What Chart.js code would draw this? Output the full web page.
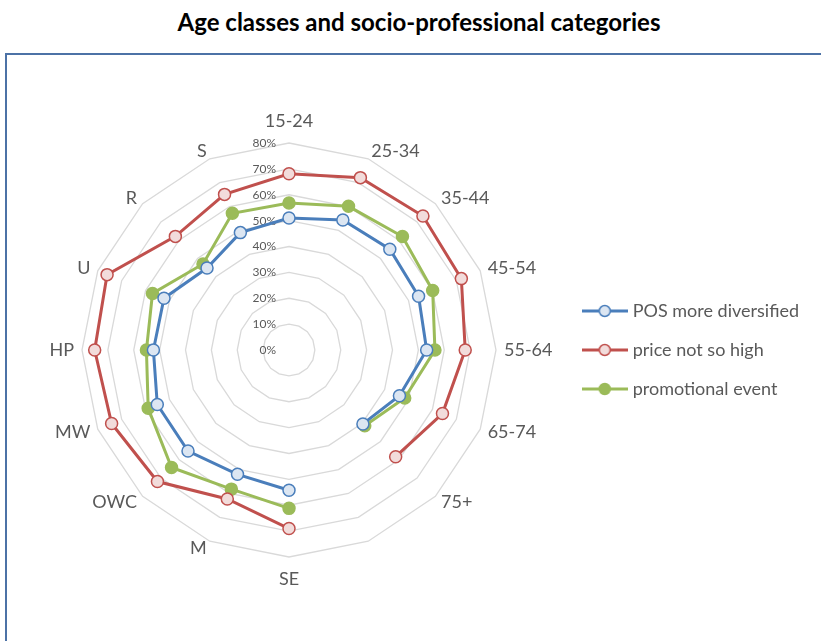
<!DOCTYPE html>
<html><head><meta charset="utf-8">
<script src="https://cdn.jsdelivr.net/npm/chart.js@4"></script>
<style>
html,body{margin:0;padding:0;background:#fff;overflow:hidden;width:821px;height:641px;position:relative;}
#title{position:absolute;left:0;top:7px;width:838px;text-align:center;font:bold 24px Lato, sans-serif;color:#000;line-height:30px;white-space:nowrap;}
#frame{position:absolute;left:5px;top:53px;width:900px;height:700px;border-left:2px solid #4c72a6;border-top:2px solid #4c72a6;}
#c{position:absolute;left:0;top:0;}
</style></head><body>
<div id="frame"></div>
<div id="title">Age classes and socio-professional categories</div>
<canvas id="c" width="821" height="641"></canvas>
<script>
// ---- data ----
const categories = ["15-24","25-34","35-44","45-54","55-64","65-74","75+","","SE","M","OWC","MW","HP","U","R","S"];
const seriesNames = ["POS more diversified","price not so high","promotional event"];
const posMoreDiversified = [51.0,54.4,55.1,54.2,53.2,46.2,40.4,null,54.2,52.0,55.2,55.1,52.4,52.3,44.8,49.1];
const priceNotSoHigh     = [68.1,72.1,73.2,72.1,68.1,64.2,58.3,null,69.0,62.3,71.9,74.2,75.1,76.1,62.1,65.1];
const promotionalEvent   = [56.8,60.1,62.0,60.1,56.4,48.4,41.4,null,61.2,58.2,64.2,58.9,55.1,57.1,47.0,57.2];
const tickValues = [0,10,20,30,40,50,60,70,80];
const tickLabels = ["0%","10%","20%","30%","40%","50%","60%","70%","80%"];

// ---- styles ----
const lineColors = ["#4a7ebb","#c0504d","#9bbb59"];
const pointFills = ["#dce6f2","#f2dcdb","#9bbb59"];
const FONT = "Lato";
const LABEL_SIZE = 18;
const LEG_PAD = 21;

function legendIcon(lc, pf) {
  const cv = document.createElement('canvas');
  cv.width = 46; cv.height = 16;
  const x = cv.getContext('2d');
  x.strokeStyle = lc; x.lineWidth = 3;
  x.beginPath(); x.moveTo(0, 8); x.lineTo(46, 8); x.stroke();
  x.beginPath(); x.arc(23, 8, 5.5, 0, Math.PI * 2);
  x.fillStyle = pf; x.fill();
  x.lineWidth = 1.5; x.stroke();
  return cv;
}
const icons = lineColors.map((c, i) => legendIcon(c, pointFills[i]));

const mctx = document.createElement('canvas').getContext('2d');
mctx.font = "normal " + LABEL_SIZE + "px " + FONT;
const textW = Math.max(...seriesNames.map(n => mctx.measureText(n).width));
const legendLeft = 564.7;
const padRight = Math.max(0, 821 - legendLeft - (LEG_PAD + 38 + LABEL_SIZE / 2 + textW + 10));

const labelPlugin = {
  id: 'labelPlugin',
  beforeDatasetsDraw(chart) {
    const s = chart.scales.r, ctx = chart.ctx;
    ctx.save();
    ctx.fillStyle = '#595959';
    ctx.font = "12px " + FONT;
    ctx.textAlign = 'right'; ctx.textBaseline = 'middle';
    tickValues.forEach((v, i) => {
      ctx.fillText(tickLabels[i], s.xCenter - 13, s.yCenter - s.getDistanceFromCenterForValue(v));
    });
    ctx.font = LABEL_SIZE + "px " + FONT;
    const R = s.drawingArea;
    chart.data.labels.forEach((lab, i) => {
      if (!lab) return;
      const deg = Math.round(s.getIndexAngle(i) * 180 / Math.PI) % 360;
      let p;
      if (deg === 0 || deg === 180) {
        p = s.getPointPosition(i, R + 22);
        ctx.textAlign = 'center';
      } else {
        p = s.getPointPosition(i, R + 8);
        ctx.textAlign = deg < 180 ? 'left' : 'right';
      }
      ctx.fillText(lab, p.x, p.y);
    });
    ctx.restore();
  }
};

const mk = (label, data, i) => ({
  label, data,
  borderColor: lineColors[i], backgroundColor: pointFills[i],
  borderWidth: 3, fill: false,
  pointRadius: 6, pointBorderWidth: 1.5,
  pointBackgroundColor: pointFills[i], pointBorderColor: lineColors[i],
  spanGaps: false
});

new Chart(document.getElementById('c'), {
  type: 'radar',
  data: {
    labels: categories,
    datasets: [
      mk(seriesNames[0], posMoreDiversified, 0),
      mk(seriesNames[1], priceNotSoHigh, 1),
      mk(seriesNames[2], promotionalEvent, 2)
    ]
  },
  options: {
    responsive: false, animation: false, devicePixelRatio: 1,
    layout: { padding: { top: 143, bottom: 84, left: 14.3, right: padRight } },
    plugins: {
      title: { display: false },
      tooltip: { enabled: false },
      legend: {
        position: 'right', align: 'center',
        labels: {
          usePointStyle: true, pointStyleWidth: 38, padding: LEG_PAD,
          color: '#595959', font: { family: FONT, size: LABEL_SIZE },
          generateLabels(chart) {
            const items = Chart.defaults.plugins.legend.labels.generateLabels(chart);
            items.forEach((it, i) => { it.pointStyle = icons[i]; });
            return items;
          }
        }
      }
    },
    scales: {
      r: {
        min: 0, max: 80,
        ticks: { display: false, stepSize: 10 },
        pointLabels: { display: false },
        angleLines: { display: false },
        grid: { color: '#d9d9d9', lineWidth: 1.3, circular: false }
      }
    }
  },
  plugins: [labelPlugin]
});
</script>
</body></html>
